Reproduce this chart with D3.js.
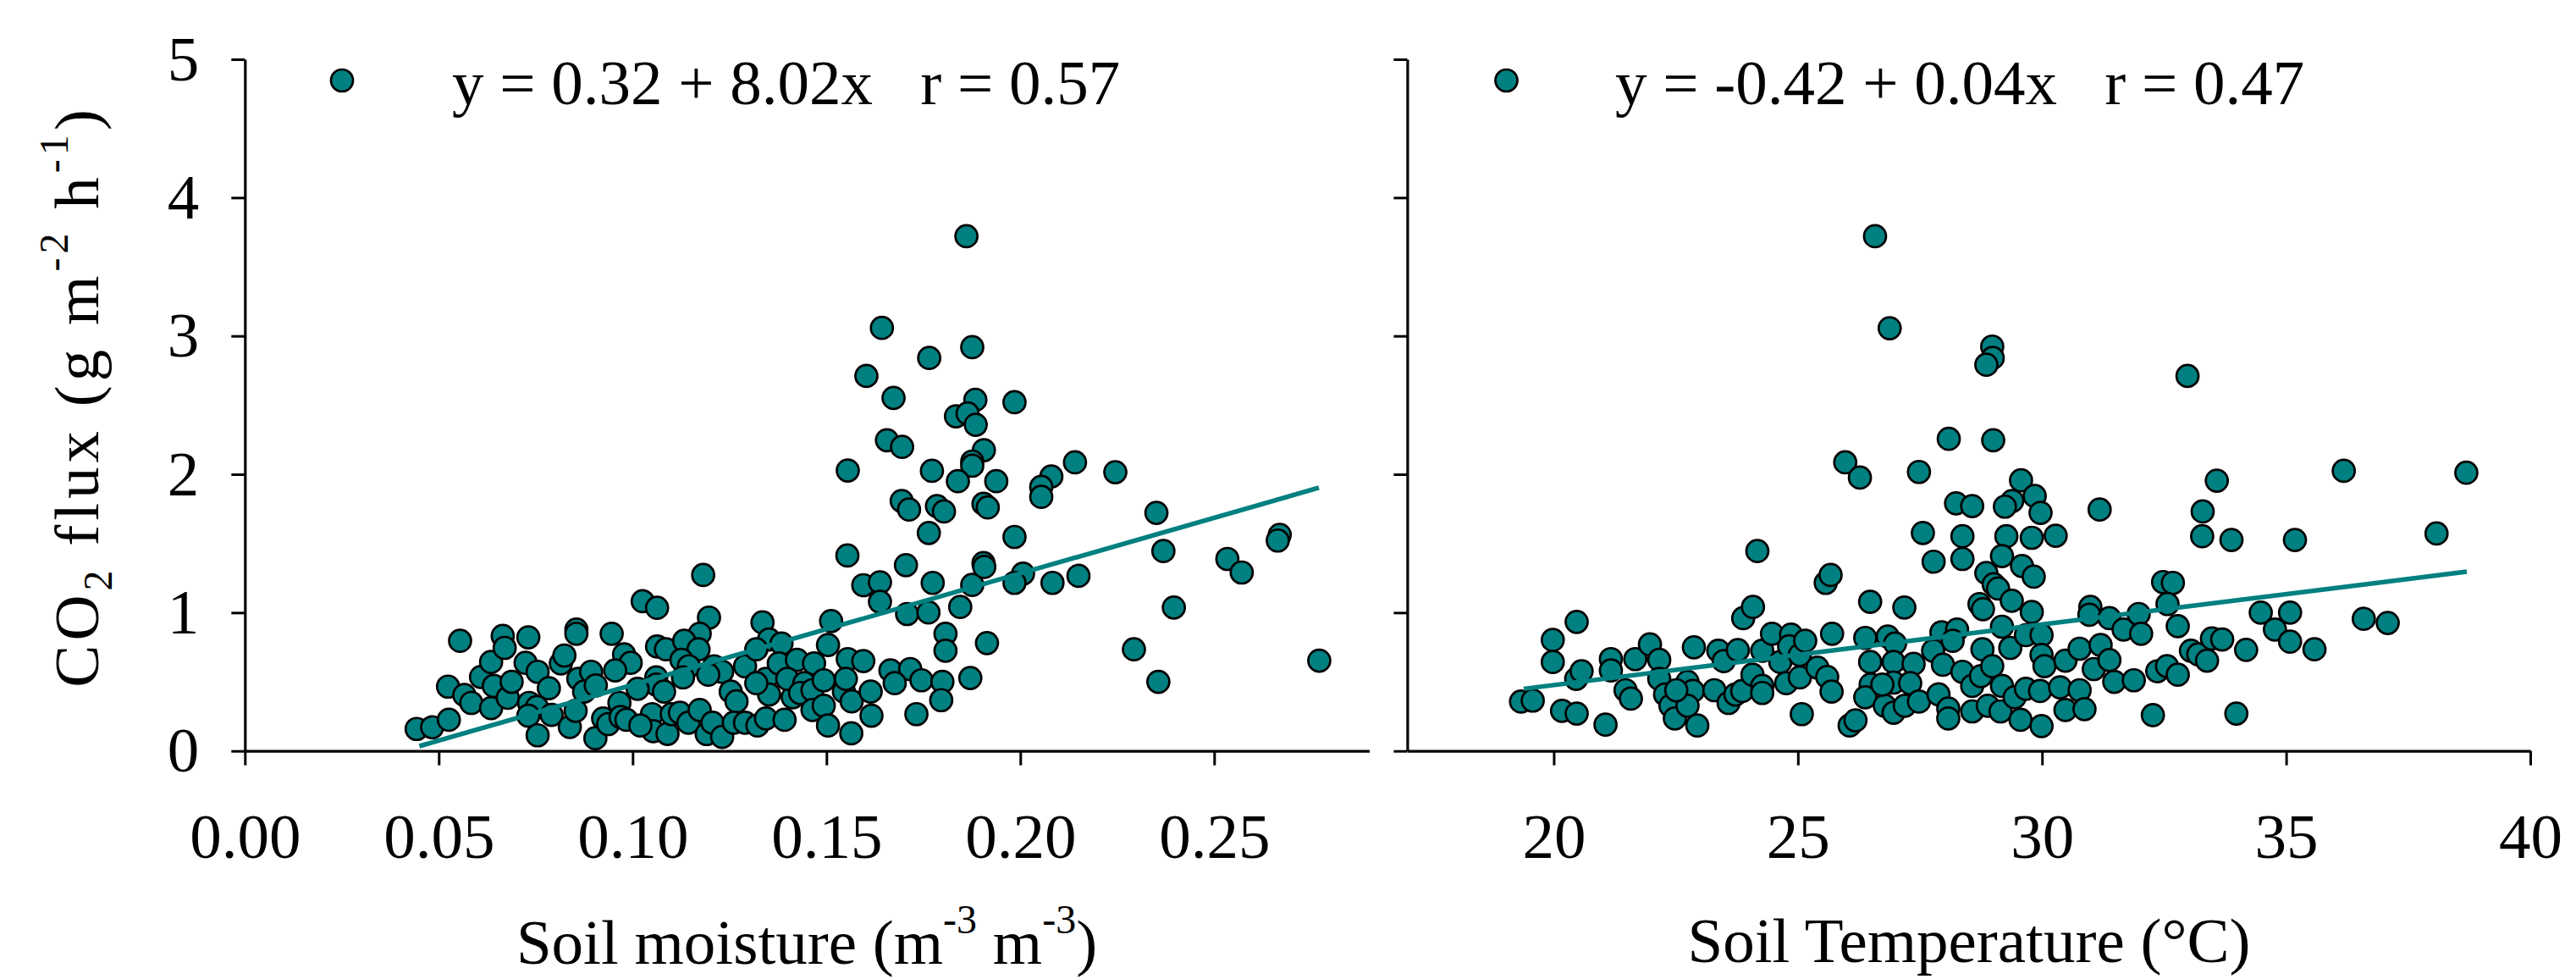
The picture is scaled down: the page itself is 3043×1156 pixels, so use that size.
<!DOCTYPE html>
<html><head><meta charset="utf-8">
<script src="https://cdn.jsdelivr.net/npm/d3@7"></script>
<style>
body{margin:0;background:#fff}
text{font-family:"Liberation Serif","Times New Roman",serif;white-space:pre;fill:#000}
</style>
</head><body>
<svg id="chart" width="3043" height="1156"></svg>
<script>
// ---------- data ----------
const moisture = [
0.0443,0.0483,0.0526,0.0555,0.0524,0.0566,0.0584,0.0609,0.0635,0.0665,0.0670,0.0642,0.0635,0.0678,0.0688,0.0731,0.0724,0.0755,0.0733,0.0753,
0.0731,0.0755,0.0784,0.0791,0.0815,0.0824,0.0855,0.0855,0.0838,0.0860,0.0893,0.0875,0.0905,0.0853,0.0904,0.0924,0.0937,0.0946,0.0978,0.0995,
0.0955,0.0966,0.0969,0.0984,0.1026,0.1063,0.1063,0.1086,0.1061,0.1061,0.1081,0.1013,0.1050,0.1053,0.1090,0.1020,0.1101,
0.1182,0.1197,0.1173,0.1133,0.1170,0.1126,0.1145,0.1210,0.1231,0.1195,0.1130,0.1122,0.1144,0.1173,0.1191,0.1206,0.1231,0.1253,0.1268,0.1290,
0.1261,0.1290,0.1322,0.1344,0.1392,0.1335,0.1352,0.1384,0.1319,0.1344,0.1352,0.1319,0.1377,0.1424,0.1413,0.1399,0.1468,0.1443,0.1432,0.1464,
0.1464,0.1493,0.1504,0.1512,0.1493,0.1504,0.1545,0.1555,0.1595,0.1550,0.1565,0.1564,0.1614,0.1616,0.1554,0.1595,0.1638,0.1638,0.1764,0.1705,
0.1774,0.1708,0.1763,0.1807,0.1807,0.1914,0.1665,0.1716,0.1676,0.1745,0.1799,0.1796,0.1732,0.1871,0.1845,0.1876,0.1905,0.1907,0.1985,0.2007,
0.1985,0.2083,0.2150,
0.1861,0.1643,0.1876,0.1765,0.1603,0.1673,0.1884,0.1985,0.1834,0.1864,0.1885,0.1656,0.1695,0.1906,0.1876,0.1876,0.2141,0.1555,0.1772,0.1839,
0.1938,0.2080,0.2054,0.2054,0.1694,0.1713,0.1785,0.1803,0.1905,0.1916,
0.2245,0.2351,0.2369,0.2396,0.2534,0.2571,0.2669,0.2664,0.2293,0.2356,0.2771];
const fluxMoisture = [
0.159,0.171,0.225,0.796,0.465,0.404,0.347,0.535,0.643,0.831,0.745,0.470,0.310,0.384,0.500,0.821,0.637,0.572,0.347,0.317,
0.255,0.113,0.453,0.261,0.633,0.690,0.878,0.847,0.174,0.521,0.572,0.429,0.474,0.290,0.092,0.235,0.194,0.847,0.698,0.637,
0.582,0.347,0.245,0.225,1.082,1.035,0.755,0.735,0.531,0.480,0.429,0.449,0.266,0.143,0.123,0.184,0.266,
1.272,0.964,0.847,0.796,0.735,0.658,0.612,0.612,0.572,0.551,0.531,0.276,0.204,0.296,0.122,0.204,0.102,0.429,0.358,0.612,
0.204,0.204,0.184,0.235,0.225,0.929,0.806,0.776,0.735,0.521,0.408,0.490,0.633,0.658,0.388,0.521,0.633,0.490,0.419,0.439,
0.296,0.511,0.766,0.939,0.327,0.184,0.429,0.664,0.650,0.521,0.358,0.127,0.429,0.255,1.413,1.198,1.219,1.078,1.576,1.343,
1.215,0.990,1.001,0.847,0.725,0.780,0.582,0.592,0.490,0.511,0.500,0.367,0.266,0.527,1.041,1.200,1.358,1.330,1.547,1.282,
1.215,1.215,1.266,
3.721,3.058,2.919,2.841,2.711,2.552,2.538,2.521,2.419,2.440,2.358,2.246,2.198,2.174,2.092,2.062,2.086,2.027,2.025,1.950,
1.950,1.984,1.909,1.837,1.807,1.745,1.770,1.731,1.786,1.760,
2.015,1.721,1.445,1.037,1.388,1.290,1.562,1.521,0.735,0.500,0.653];

const temperature = [
19.33,19.57,19.98,19.98,20.47,20.17,20.47,20.46,20.57,21.06,21.17,21.17,21.47,21.58,21.67,21.97,22.16,22.16,22.28,22.39,
22.48,22.74,22.85,22.74,22.94,22.87,22.51,23.29,23.37,23.48,23.77,23.58,23.72,23.86,23.88,24.08,24.17,24.07,24.27,24.27,
24.27,24.47,24.64,24.76,24.86,24.82,25.04,25.04,25.15,25.08,25.40,25.60,25.69,25.57,25.67,25.70,26.06,26.18,26.38,26.48,
26.48,26.49,26.38,26.78,26.96,26.84,26.99,26.96,26.96,27.18,27.19,27.37,27.30,27.48,26.73,27.56,
27.78,28.37,28.37,29.27,29.79,30.28,29.18,29.59,29.83,28.86,29.01,29.10,29.38,28.72,28.79,29.79,27.94,28.26,28.17,27.77,
27.97,27.88,28.08,28.08,28.37,28.57,28.78,28.75,28.57,28.89,28.98,29.18,29.18,29.15,29.35,29.44,29.56,29.67,29.67,29.99,
29.99,30.05,29.96,29.99,30.37,30.48,30.48,30.77,30.77,30.87,30.99,30.97,31.06,31.20,31.38,31.38,31.48,31.67,31.88,31.98,
32.03,32.27,32.36,32.56,32.78,32.48,32.68,32.57,32.78,33.05,33.20,33.38,33.48,33.69,34.18,33.98,33.28,
26.58,26.88,28.98,28.99,28.86,28.09,29.00,25.97,26.27,27.48,29.57,29.85,29.97,29.39,29.24,28.24,28.57,31.18,
32.98,33.58,33.29,33.88,35.18,36.18,38.69,38.08,34.48,35.08,34.77,35.08,35.58,36.59,37.08];
const fluxTemperature = [
0.357,0.364,0.802,0.643,0.933,0.290,0.270,0.521,0.576,0.190,0.664,0.582,0.439,0.378,0.664,0.770,0.658,0.521,0.408,0.327,
0.235,0.500,0.433,0.327,0.184,0.749,0.439,0.439,0.725,0.649,0.729,0.347,0.408,0.433,0.960,1.041,1.445,0.551,0.725,0.470,
0.419,0.847,0.643,0.490,0.841,0.756,0.694,0.531,0.796,0.266,0.602,0.535,0.429,1.215,1.272,0.847,0.184,0.221,0.817,1.078,
0.643,0.480,0.388,0.327,0.276,0.827,0.776,0.643,0.494,1.037,0.327,0.629,0.490,0.357,0.480,1.576,
1.368,1.552,1.388,1.552,1.541,1.556,1.409,1.337,1.260,1.286,1.205,1.174,1.086,1.062,1.025,1.004,0.857,0.878,0.796,0.725,
0.623,0.409,0.306,0.235,0.572,0.470,0.735,0.541,0.286,0.327,0.613,0.898,0.470,0.286,0.745,0.388,0.225,0.837,0.449,0.837,
0.694,0.613,0.433,0.180,0.460,0.653,0.296,0.739,0.439,0.302,1.041,0.984,0.592,0.766,0.657,0.960,0.500,0.878,0.511,0.990,
0.847,0.259,0.576,0.613,0.551,1.221,1.215,1.062,0.902,0.725,0.698,0.653,0.813,0.806,0.731,0.270,1.552,
3.721,3.056,2.923,2.841,2.792,2.256,2.246,2.086,1.976,2.017,1.956,1.843,1.721,1.807,1.766,1.790,1.770,1.745,
2.711,1.954,1.731,1.525,1.525,2.025,2.011,1.572,1.000,1.000,0.878,0.790,0.735,0.955,0.925];

const moistureTicks = [0, 0.05, 0.10, 0.15, 0.20, 0.25];
const temperatureTicks = [20, 25, 30, 35, 40];
const fluxTicks = [0, 1, 2, 3, 4, 5];
const fitMoistureX = [0.045, 0.277];
const fitMoistureY = [0.035, 1.903];
const fitTemperatureX = [19.385, 38.70];
const fitTemperatureY = [0.449, 1.296];
const legendMoisture = "y = 0.32 + 8.02x   r = 0.57";
const legendTemperature = "y = -0.42 + 0.04x   r = 0.47";

// ---------- drawing ----------
const TEAL = "#008080";
const FS = 75;
const svg = d3.select("#chart");

const y = d3.scaleLinear().domain([0, 5]).range([886.7, 70]);
const xM = d3.scaleLinear().domain([0, 0.29]).range([289.3, 1617.5]);
const xT = d3.scaleLinear().domain([17, 40]).range([1662.4, 2989]);

function styleAxis(g) {
  g.selectAll("path.domain").attr("stroke", "#000").attr("stroke-width", 3.2);
  g.selectAll(".tick line").attr("stroke", "#000").attr("stroke-width", 3);
  g.selectAll(".tick text").attr("font-size", FS)
    .attr("font-family", '"Liberation Serif","Times New Roman",serif').attr("fill", "#000");
}

function panel(xs, xv, yv, ticks, fmt, fitX, fitY, showY, legendText, legX, legTextX) {
  const g = svg.append("g");
  g.append("g").attr("transform", `translate(0,${y(0)})`)
    .call(d3.axisBottom(xs).tickValues(ticks).tickFormat(fmt).tickSize(17).tickSizeOuter(0).tickPadding(56))
    .call(styleAxis);
  g.append("g").attr("transform", `translate(${xs.range()[0]},0)`)
    .call(d3.axisLeft(y).tickValues(fluxTicks).tickSize(16).tickSizeOuter(0).tickPadding(38)
      .tickFormat(showY ? d3.format("d") : () => ""))
    .call(styleAxis);

  const pts = xv.map((v, i) => [v, yv[i]]);
  g.append("g").selectAll("circle").data(pts).join("circle")
    .attr("cx", d => xs(d[0])).attr("cy", d => y(d[1])).attr("r", 13)
    .attr("fill", TEAL).attr("stroke", "#000").attr("stroke-width", 2.7);

  g.append("line")
    .attr("x1", xs(fitX[0])).attr("y1", y(fitY[0]))
    .attr("x2", xs(fitX[1])).attr("y2", y(fitY[1]))
    .attr("stroke", TEAL).attr("stroke-width", 5.5);

  g.append("circle").attr("cx", legX).attr("cy", 95).attr("r", 13)
    .attr("fill", TEAL).attr("stroke", "#000").attr("stroke-width", 2.7);
  g.append("text").attr("x", legTextX).attr("y", 123).attr("font-size", FS).text(legendText);
}

panel(xM, moisture, fluxMoisture, moistureTicks, d3.format(".2f"), fitMoistureX, fitMoistureY, true,
      legendMoisture, 404, 534);
panel(xT, temperature, fluxTemperature, temperatureTicks, d3.format("d"), fitTemperatureX, fitTemperatureY, false,
      legendTemperature, 1779.5, 1908);

// x-axis titles
const t1 = svg.append("text").attr("x", 953).attr("y", 1138).attr("text-anchor", "middle").attr("font-size", FS);
t1.append("tspan").text("Soil moisture (m");
t1.append("tspan").attr("dy", -36).attr("font-size", 48).text("-3");
t1.append("tspan").attr("dy", 36).text(" m");
t1.append("tspan").attr("dy", -36).attr("font-size", 48).text("-3");
t1.append("tspan").attr("dy", 36).text(")");

svg.append("text").attr("x", 2326).attr("y", 1136).attr("text-anchor", "middle").attr("font-size", FS)
  .text("Soil Temperature (\u00B0C)");

// y-axis title
const yt = svg.append("text").attr("transform", "translate(116,468) rotate(-90)")
  .attr("text-anchor", "middle").attr("font-size", FS).attr("letter-spacing", 5);
yt.append("tspan").text("CO");
yt.append("tspan").attr("dy", 16).attr("font-size", 48).text("2");
yt.append("tspan").attr("dy", -16).text(" flux (g m");
yt.append("tspan").attr("dy", -36).attr("font-size", 48).text("-2");
yt.append("tspan").attr("dy", 36).text(" h");
yt.append("tspan").attr("dy", -36).attr("font-size", 48).text("-1");
yt.append("tspan").attr("dy", 36).text(")");
</script>
</body></html>
